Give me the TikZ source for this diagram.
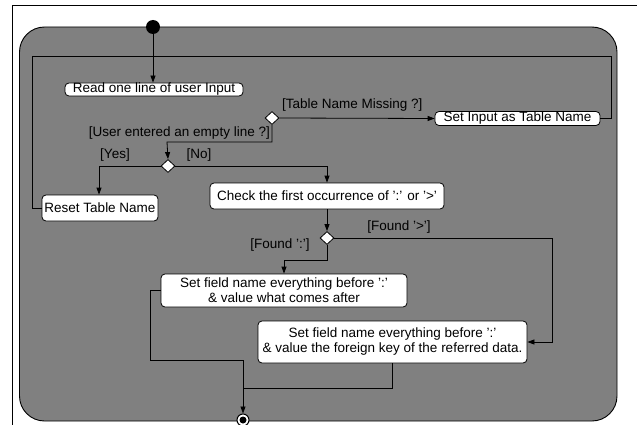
\documentclass[tikz,border=0pt]{standalone}
\usepackage{fontspec}
\setmainfont{Liberation Sans}
\usetikzlibrary{arrows.meta,shapes.geometric}
\definecolor{regiongray}{RGB}{128,128,128}
\begin{document}
\begin{tikzpicture}[x=1pt,y=-1pt,
  every node/.style={font=\fontsize{13.5}{15}\selectfont},
  act/.style={draw=black,fill=white,rounded corners=4pt,line width=0.8pt,inner sep=0pt,align=center},
  dec/.style={draw=black,fill=white,diamond,minimum width=14pt,minimum height=13pt,inner sep=0pt,line width=0.8pt},
  lbl/.style={inner sep=0pt},
  flow/.style={line width=0.8pt,-{Triangle[length=7pt,width=5pt]}},
  plain/.style={line width=0.8pt}]
\useasboundingbox (0,0) rectangle (637,425);
% frame
\draw[line width=0.8pt] (12,425) -- (12,5) -- (637,5);
% region
\draw[fill=regiongray,line width=0.9pt,rounded corners=25pt] (19.5,27) rectangle (617,421);
% nodes
\node[circle,fill=black,minimum size=14pt,inner sep=0pt] (start) at (153,27) {};
\node[act,minimum width=178pt,minimum height=13pt] (read) at (154,89.5) {Read one line of user Input};
\node[dec] (d1) at (272,118) {};
\node[act,minimum width=165pt,minimum height=14pt] (setin) at (517.5,118.5) {Set Input as Table Name};
\node[dec] (d2) at (168,166) {};
\node[act,minimum width=116pt,minimum height=26pt] (reset) at (100,208) {Reset Table Name};
\node[act,minimum width=234pt,minimum height=26pt] (check) at (327,196) {Check the first occurrence of ':' or '>'};
\node[dec] (d3) at (327,238) {};
\node[act,minimum width=246pt,minimum height=33pt] (fld1) at (284,290.5) {Set field name everything before ':'\\\& value what comes after};
\node[act,minimum width=269pt,minimum height=42pt] (fld2) at (392.5,342) {Set field name everything before ':'\\\& value the foreign key of the referred data.};
\node[circle,draw=black,fill=white,line width=1pt,minimum size=12pt,inner sep=0pt] (end) at (243,420) {};
\node[circle,fill=black,minimum size=7pt,inner sep=0pt] (endin) at (end.center) {};
% coordinates
\coordinate (loopR) at (611,56);
\coordinate (loopL) at (32,56);
\coordinate (j1) at (167,142);
\coordinate (j2) at (99,166);
\coordinate (j3) at (327,166);
\coordinate (j4) at (552,238);
\coordinate (j5) at (284,260);
\coordinate (j6) at (150,360);
\coordinate (j7) at (243,388);
% connectors
\draw[flow] (start) -- (read.north -| start);
\draw[plain] (setin.east) -| (loopR) -- (loopL) |- (reset.west);
\draw[flow] (d1.east) -- (setin.west);
\draw[flow] (d1.south) |- (j1) -- (d2.north);
\draw[flow] (d2.west) -| (reset.north -| j2);
\draw[flow] (d2.east) -| (check.north);
\draw[flow] (check.south) -- (d3.north);
\draw[flow] (d3.east) -| (j4) |- (fld2.east);
\draw[flow] (d3.south) |- (j5) -- (fld1.north -| j5);
\draw[flow] (fld1.west) -| (j6) -| (end.north);
\draw[plain] (fld2.south |- fld2.south) |- (j7);
% labels
\node[lbl,anchor=west] (l1) at (282,105) {[Table Name Missing ?]};
\node[lbl,anchor=east] (l2) at (270,133) {[User entered an empty line ?]};
\node[lbl] (l3) at (115,155) {[Yes]};
\node[lbl] (l4) at (199,155) {[No]};
\node[lbl] (l5) at (399,227) {[Found '>']};
\node[lbl] (l6) at (280,245) {[Found ':']};
\end{tikzpicture}
\end{document}
